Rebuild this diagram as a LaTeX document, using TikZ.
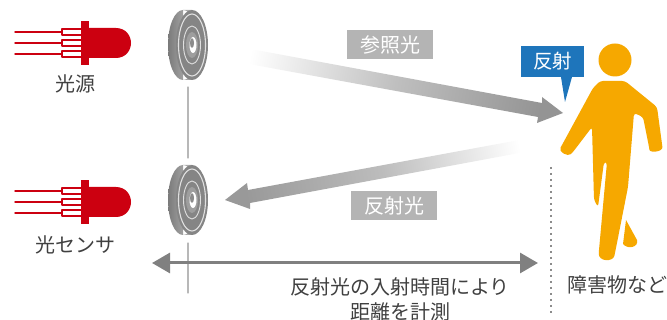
\documentclass[tikz,border=0pt]{standalone}
\usepackage{fontspec}
\setmainfont{Noto Sans CJK JP}
\usetikzlibrary{arrows.meta}

\definecolor{ledred}{HTML}{CC0010}
\definecolor{walker}{HTML}{F6A800}
\definecolor{calloutblue}{HTML}{1E75BB}
\definecolor{labelgray}{HTML}{B4B4B4}
\definecolor{textgray}{HTML}{404040}

\tikzset{
  caption/.style={text=textgray, font=\fontsize{20}{25}\selectfont, align=center, inner sep=0pt},
  beamlabel/.style={fill=labelgray, text=white, font=\fontsize{20}{24}\selectfont, minimum height=29pt, minimum width=86pt, inner sep=0pt},
  led/.pic={
    \draw[ledred, line width=1.4pt] (15,32) -- (62,32) (15,43) -- (62,43) (15,54) -- (62,54);
    \draw[ledred, line width=1.2pt, fill=white] (62,29) rectangle (84,35);
    \draw[ledred, line width=1.2pt, fill=white] (62,40) rectangle (84,46);
    \draw[ledred, line width=1.2pt, fill=white] (62,51) rectangle (84,57);
    \fill[ledred] (81,21) rectangle (89,65);
    \fill[ledred] (89,28) -- (116,28) .. controls (126,28) and (131,36) .. (131,43) .. controls (131,50) and (126,58) .. (116,58) -- (89,58) -- cycle;
  },
  lens/.pic={
    \shade[left color=black!52, right color=black!22] (183,45) ellipse (15 and 35) (183,10) rectangle (192,80);
    \fill[black!48] (192,45) ellipse (16 and 35);
    \draw[white!88!black, line width=1.1pt] (192,45) ellipse (13.5 and 31);
    \draw[white!88!black, line width=0.9pt] (192,45) ellipse (8.5 and 19);
    \fill[black!38] (192,45) ellipse (6 and 13);
    \fill[white] (193,45) ellipse (3.5 and 8);
    \fill[black!45] (192,43) ellipse (2 and 5);
  },
}

\begin{document}
\begin{tikzpicture}[x=1pt, y=-1pt, line cap=round, line join=round]
  \useasboundingbox (0,0) rectangle (667,320);

  % light sources and lenses
  \pic at (0,0) {led};
  \pic at (0,159) {led};
  \pic at (0,0) {lens};
  \pic at (0,155) {lens};

  \node[caption] (source) at (75,84) {光源};
  \node[caption] (sensor) at (75,245) {光センサ};

  % axis through the lenses
  \coordinate (axisA) at (188,87);
  \coordinate (axisB) at (188,158);
  \coordinate (axisC) at (188,243);
  \coordinate (axisD) at (188,293);
  \draw[black!28, line width=1.3pt] (axisA) -- (axisB);
  \draw[black!28, line width=1.3pt] (axisC) -- (axisD);

  % beams
  \shade[top color=white, bottom color=black!42, middle color=black!25, shading angle=79.5]
    (229,45) -- (542,103) -- (542,97) -- (563,113) -- (537,123) -- (538,117) -- (227,60) -- cycle;
  \shade[top color=white, bottom color=black!40, middle color=black!26, shading angle=-79.5]
    (541,136) -- (248,190) -- (247,183) -- (225,200) -- (250,209) -- (250,203) -- (541,149) -- cycle;

  \node[beamlabel] (reference) at (390,45) {参照光};
  \node[beamlabel] (reflected) at (394,206) {反射光};

  % walker
  \fill[walker] (615,60) circle (16.5);
  \fill[walker, rounded corners=3pt] (600,81) -- (625,81) -- (657,107) -- (662,144)
    .. controls (663,152) and (650,153) .. (649,147) -- (643,117) -- (634,113) -- (628,187)
    -- (615,253) .. controls (613,262) and (598,262) .. (599,250)
    -- (607,162) -- (604,162) -- (598,207) -- (594,200) -- (592,127) -- (573,152)
    .. controls (568,157) and (558,152) .. (562,145) -- (593,88) -- cycle;
  \fill[walker] (626,220) -- (637,240) .. controls (639,247) and (628,250) .. (623,244) -- cycle;

  % callout
  \node[fill=calloutblue, text=white, font=\fontsize{19.5}{24}\selectfont, minimum width=63pt, minimum height=31pt, inner sep=0pt] (reflect) at (552.5,61.5) {反射};
  \coordinate (calloutTip) at (565,102);
  \fill[calloutblue] (561,77) -- (calloutTip) -- (572,77) -- cycle;

  % distance
  \coordinate (rangeL) at (152,263);
  \coordinate (rangeR) at (538,263);
  \draw[{Triangle[length=18pt,width=20pt]}-{Triangle[length=18pt,width=20pt]}, black!50, line width=3pt, line cap=butt] (rangeL) -- (rangeR);

  \coordinate (floorA) at (551,167);
  \coordinate (floorB) at (551,313);
  \draw[black!45, line width=1.1pt, dash pattern=on 2pt off 4pt, line cap=butt] (floorA) -- (floorB);

  \node[caption] (measure) at (400,299) {反射光の入射時間により\\距離を計測};
  \node[caption] (obstacle) at (617,285) {障害物など};
\end{tikzpicture}
\end{document}
